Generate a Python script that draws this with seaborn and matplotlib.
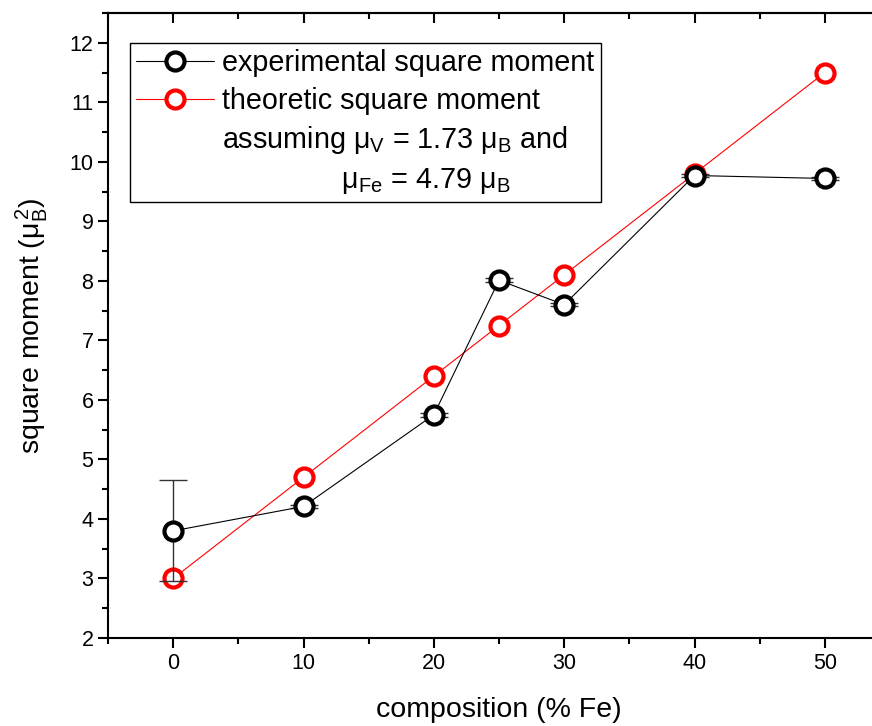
import numpy as np
import pandas as pd
import matplotlib
matplotlib.use('Agg')
import matplotlib.pyplot as plt
from matplotlib.lines import Line2D
from matplotlib.ticker import MultipleLocator
import seaborn as sns

# Data
composition = [0, 10, 20, 25, 30, 40, 50]
experimental = [3.80, 4.21, 5.75, 8.01, 7.60, 9.77, 9.72]
experimental_err = [0.85, 0.03, 0.03, 0.03, 0.03, 0.03, 0.03]
theoretic = [3.00, 4.70, 6.40, 7.25, 8.10, 9.80, 11.50]

df = pd.DataFrame({'composition': composition,
                   'experimental': experimental,
                   'err': experimental_err,
                   'theoretic': theoretic})

sns.set_style('ticks')
plt.rcParams['font.family'] = ['Liberation Sans', 'DejaVu Sans']
plt.rcParams['mathtext.fontset'] = 'custom'
plt.rcParams['mathtext.rm'] = 'Liberation Sans'
plt.rcParams['mathtext.it'] = 'Liberation Sans:italic'
plt.rcParams['mathtext.sf'] = 'Liberation Sans'
plt.rcParams['text.color'] = 'black'
plt.rcParams['axes.labelcolor'] = 'black'
plt.rcParams['axes.edgecolor'] = 'black'

fig = plt.figure(figsize=(8.72, 7.26), dpi=100)
ax = fig.add_axes([108 / 872, 88 / 726, 782 / 872, 625 / 726])

marker_kw = dict(marker='o', markersize=13, markeredgewidth=3,
                 markerfacecolor='white', linewidth=0.8)

sns.lineplot(data=df, x='composition', y='theoretic', sort=False, ax=ax,
             color='red', markeredgecolor='red', zorder=2,
             label='theoretic square moment', **marker_kw)
ax.errorbar(df['composition'], df['experimental'], yerr=df['err'],
            fmt='none', ecolor='#333333', elinewidth=1, capsize=10,
            capthick=1, zorder=3)
sns.lineplot(data=df, x='composition', y='experimental', sort=False, ax=ax,
             color='black', markeredgecolor='black', zorder=4,
             label='experimental square moment', **marker_kw)

ax.set_xlim(-5, 55)
ax.set_ylim(2, 12.5)
ax.xaxis.set_major_locator(MultipleLocator(10))
ax.xaxis.set_minor_locator(MultipleLocator(5))
ax.yaxis.set_major_locator(MultipleLocator(1))
ax.yaxis.set_minor_locator(MultipleLocator(0.5))

for sp in ax.spines.values():
    sp.set_visible(True)
    sp.set_linewidth(1.5)
    sp.set_color('black')
ax.tick_params(which='major', direction='out', length=7, width=1.5,
               labelsize=15.5, colors='black')
ax.tick_params(which='minor', direction='out', length=4, width=1.5, colors='black')

top = ax.secondary_xaxis('top')
top.xaxis.set_major_locator(MultipleLocator(10))
top.xaxis.set_minor_locator(MultipleLocator(5))
top.tick_params(which='major', direction='in', length=7, width=1.5,
                labeltop=False, colors='black')
top.tick_params(which='minor', direction='in', length=4, width=1.5, colors='black')
top.spines['top'].set_linewidth(1.5)
top.spines['top'].set_color('black')

right = ax.secondary_yaxis('right')
right.yaxis.set_major_locator(MultipleLocator(1))
right.yaxis.set_minor_locator(MultipleLocator(0.5))
right.tick_params(which='major', direction='in', length=7, width=1.5,
                  labelright=False, colors='black')
right.tick_params(which='minor', direction='in', length=4, width=1.5, colors='black')
right.spines['right'].set_linewidth(1.5)
right.spines['right'].set_color('black')

ax.set_xlabel('composition (% Fe)', fontsize=20.5, labelpad=17)
ax.set_ylabel(r'square moment ($\mathrm{\mu_B^{\,2}}$)', fontsize=20.5, labelpad=14)

# Legend: two series plus the two note lines
handles, labels = ax.get_legend_handles_labels()
order = [labels.index('experimental square moment'),
         labels.index('theoretic square moment')]
handles = [handles[i] for i in order]
labels = [labels[i] for i in order]
blank = Line2D([], [], linestyle='none')
handles += [blank, blank]
labels += [r'assuming $\mathrm{\mu_V}$ = 1.73 $\mathrm{\mu_B}$ and',
           '               ' + r'$\mathrm{\mu_{Fe}}$ = 4.79 $\mathrm{\mu_B}$']
leg = ax.legend(handles, labels, loc='upper left',
                bbox_to_anchor=(0.028, 0.952), borderaxespad=0,
                fontsize=20.7, frameon=True, fancybox=False,
                edgecolor='black', framealpha=1, handlelength=2.7,
                handletextpad=0.3, borderpad=0.22, labelspacing=0.33)
leg.get_frame().set_linewidth(1.0)

fig.savefig('out.png', dpi=100)
